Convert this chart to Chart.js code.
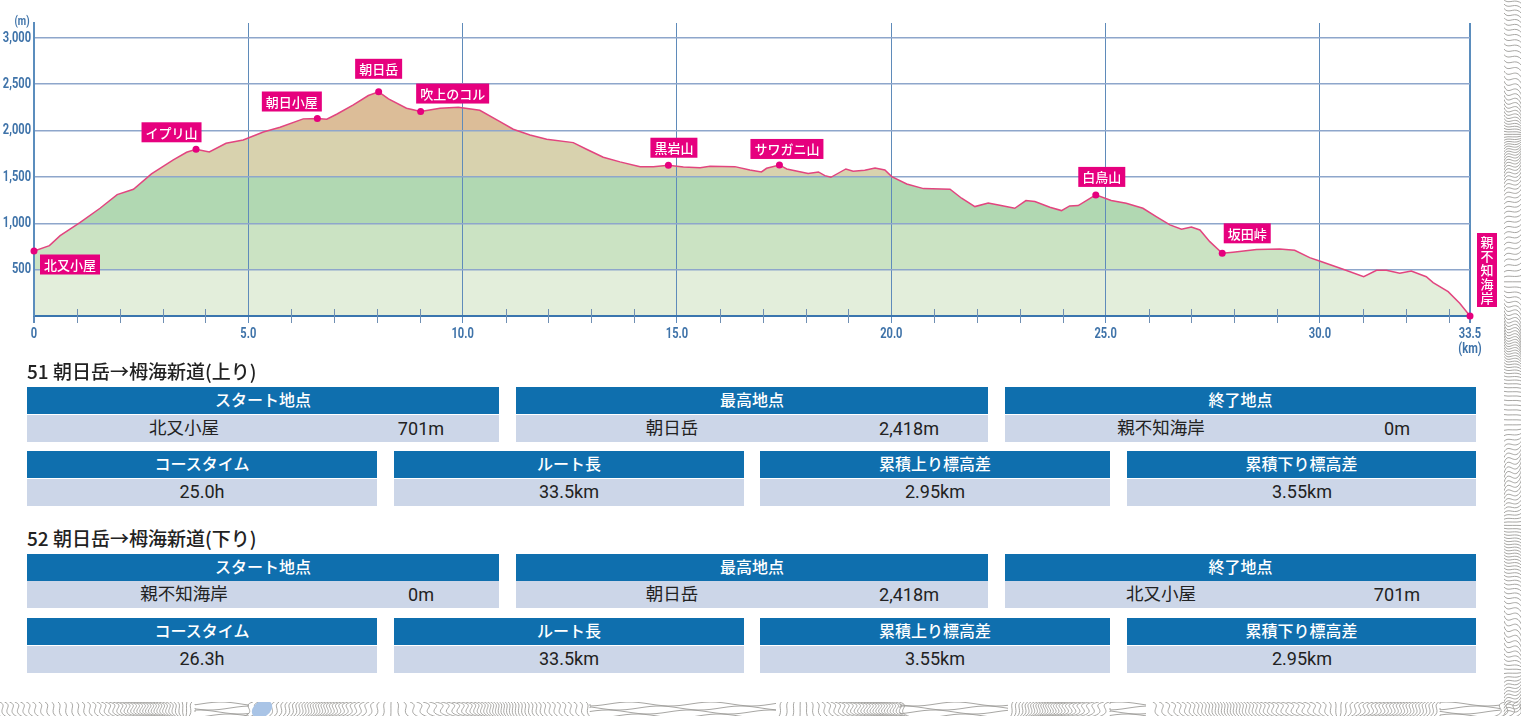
<!DOCTYPE html>
<html lang="ja">
<head>
<meta charset="utf-8">
<title>朝日岳→栂海新道</title>
<script src="https://cdn.jsdelivr.net/npm/chart.js@4"></script>
<style>
html, body { margin: 0; padding: 0; width: 1521px; height: 716px; overflow: hidden; background: #fff; }
body { position: relative; font-family: "Noto Sans CJK JP", sans-serif; color: #222; }
#map { position: absolute; left: 0; top: 0; }
#panel { position: absolute; left: 0; top: 0; width: 1504px; height: 702px; background: #fff; }
#profile { position: absolute; left: 0; top: 0; }
.title { position: absolute; left: 27px; font-size: 19px; font-weight: 500; line-height: 20px; white-space: nowrap; }
.head, .cell { position: absolute; box-sizing: border-box; }
.head { background: #0f6fae; color: #fff; font-size: 16px; font-weight: 500; text-align: center; height: 27px; line-height: 25px; }
.cell { background: #ccd6e8; height: 27px; }
.cell span { position: absolute; top: 0; white-space: nowrap; line-height: 26px; }
.name { font-size: 17.5px; transform: translateX(-50%); top: -1px !important; }
.val { font-family: "Roboto", sans-serif; font-size: 19px; transform: translateX(-50%) scaleX(0.95); }
</style>
</head>
<body>
<canvas id="map" width="1521" height="716"></canvas>
<div id="panel"></div>
<canvas id="profile" width="1504" height="360"></canvas>
<div id="tables"></div>
<script>
// Elevation profile
const distanceKm = [0, 0.36, 0.61, 1.07, 1.54, 1.94, 2.32, 2.74, 3.25, 3.56, 3.78, 4.09, 4.48, 4.88, 5.35, 5.74, 6.28, 6.61, 6.83, 7.06, 7.45, 7.8, 8.04, 8.27, 8.69, 9.02, 9.47, 9.9, 10.4, 10.87, 11.18, 11.57, 11.96, 12.58, 12.89, 13.28, 13.67, 14.14, 14.45, 14.8, 15.15, 15.54, 15.77, 16.35, 16.7, 16.97, 17.09, 17.39, 17.56, 18.06, 18.3, 18.45, 18.59, 18.94, 19.11, 19.38, 19.62, 19.85, 20.01, 20.36, 20.75, 21.37, 21.64, 21.95, 22.26, 22.53, 22.88, 23.14, 23.35, 23.7, 23.97, 24.16, 24.36, 24.77, 25.13, 25.48, 25.87, 26.18, 26.5, 26.77, 27, 27.2, 27.43, 27.72, 27.97, 28.52, 29.06, 29.41, 29.76, 29.99, 30.54, 31.02, 31.32, 31.55, 31.86, 32.13, 32.48, 32.64, 32.99, 33.26, 33.5];
const elevationM = [701, 759, 867, 1007, 1162, 1309, 1367, 1532, 1683, 1766, 1798, 1770, 1863, 1899, 1985, 2036, 2126, 2130, 2122, 2176, 2277, 2378, 2418, 2342, 2241, 2205, 2241, 2252, 2219, 2097, 2014, 1953, 1906, 1870, 1798, 1712, 1662, 1611, 1611, 1626, 1608, 1600, 1615, 1611, 1575, 1554, 1593, 1629, 1586, 1536, 1554, 1514, 1496, 1586, 1561, 1572, 1597, 1575, 1503, 1424, 1374, 1367, 1270, 1180, 1219, 1194, 1162, 1245, 1234, 1173, 1137, 1187, 1191, 1306, 1245, 1216, 1162, 1072, 982, 935, 960, 928, 802, 676, 687, 716, 723, 709, 629, 594, 504, 424, 493, 493, 460, 486, 424, 360, 263, 137, 0];

const placeNames = ['北又小屋', 'イプリ山', '朝日小屋', '朝日岳', '吹上のコル', '黒岩山', 'サワガニ山', '白鳥山', '坂田峠', '親不知海岸'];
const placeKm = [0, 3.78, 6.61, 8.04, 9.02, 14.8, 17.39, 24.77, 27.72, 33.5];
const placeM = [701, 1798, 2130, 2418, 2205, 1626, 1629, 1306, 676, 0];

const yTicks = [500, 1000, 1500, 2000, 2500, 3000];
const yTickLabels = ['500', '1,000', '1,500', '2,000', '2,500', '3,000'];
const xTicks = [0, 5, 10, 15, 20, 25, 30, 33.5];
const xTickLabels = ['0', '5.0', '10.0', '15.0', '20.0', '25.0', '30.0', '33.5'];
const xMinorTicks = [1, 2, 3, 4, 6, 7, 8, 9, 11, 12, 13, 14, 16, 17, 18, 19, 21, 22, 23, 24, 26, 27, 28, 29, 31, 32, 33];

const bandLimits = [0, 500, 1000, 1500, 2000, 3160];
const bandColors = ['#e3eedb', '#cbe3c3', '#b1d8b2', '#d8d2ae', '#dcbd98'];

// Route tables
const tableRows = [
  {
    title: '51 朝日岳→栂海新道(上り)',
    points: [['スタート地点', '北又小屋', '701m'], ['最高地点', '朝日岳', '2,418m'], ['終了地点', '親不知海岸', '0m']],
    stats: ['25.0h', '33.5km', '2.95km', '3.55km']
  },
  {
    title: '52 朝日岳→栂海新道(下り)',
    points: [['スタート地点', '親不知海岸', '0m'], ['最高地点', '朝日岳', '2,418m'], ['終了地点', '北又小屋', '701m']],
    stats: ['26.3h', '33.5km', '3.55km', '2.95km']
  }
];
const statHeads = ['コースタイム', 'ルート長', '累積上り標高差', '累積下り標高差'];

// label box offset from its point, in px
const labelOffsets = [[36, 13.5], [-24.5, -17], [-25.5, -17], [0, -23], [32, -18], [5.5, -17.5], [7.5, -16], [6, -18], [25, -20], [17, -46]];

const AXIS_COLOR = '#3f73a9';

function bandGradient(context) {
  const { chart } = context;
  const y = chart.scales.y;
  if (!chart.chartArea || !y) return bandColors[0];
  const span = bandLimits[bandLimits.length - 1] - bandLimits[0];
  const gradient = chart.ctx.createLinearGradient(0, y.getPixelForValue(bandLimits[0]), 0, y.getPixelForValue(span));
  bandColors.forEach((color, i) => {
    gradient.addColorStop(bandLimits[i] / span, color);
    gradient.addColorStop(bandLimits[i + 1] / span, color);
  });
  return gradient;
}

// the axis type in the print is condensed and no such font is installed, so squeeze Roboto
function narrowText(ctx, text, x, y, align) {
  ctx.save();
  ctx.translate(x, y);
  ctx.scale(0.74, 1);
  ctx.textAlign = align;
  ctx.textBaseline = 'middle';
  ctx.fillText(text, 0, 0);
  ctx.restore();
}

// short marks on the distance axis, axis labels, units and the pink place labels
const profileDecor = {
  id: 'profileDecor',
  afterDatasetsDraw(chart) {
    const { ctx, scales: { x, y } } = chart;
    const base = y.getPixelForValue(0);
    ctx.save();

    ctx.strokeStyle = '#6f8fb3';
    ctx.lineWidth = 1;
    xMinorTicks.forEach(km => {
      const px = Math.round(x.getPixelForValue(km)) + 0.5;
      ctx.beginPath();
      ctx.moveTo(px, base - 7);
      ctx.lineTo(px, base + 7);
      ctx.stroke();
    });

    ctx.fillStyle = AXIS_COLOR;
    ctx.font = 'bold 15px Roboto, sans-serif';
    yTicks.forEach((v, i) => narrowText(ctx, yTickLabels[i], 31, y.getPixelForValue(v), 'right'));
    xTicks.forEach((v, i) => narrowText(ctx, xTickLabels[i], x.getPixelForValue(v), 334.5, 'center'));
    narrowText(ctx, '(km)', x.getPixelForValue(33.5), 349.5, 'center');
    ctx.font = 'bold 13px Roboto, sans-serif';
    narrowText(ctx, '(m)', 22, 22, 'center');

    ctx.textAlign = 'center';
    ctx.textBaseline = 'middle';
    placeNames.forEach((name, i) => {
      const cx = x.getPixelForValue(placeKm[i]) + labelOffsets[i][0];
      const cy = y.getPixelForValue(placeM[i]) + labelOffsets[i][1];
      const vertical = i === placeNames.length - 1;
      ctx.font = '500 13px "Noto Sans CJK JP", sans-serif';
      const w = vertical ? 20 : ctx.measureText(name).width + 8;
      const h = vertical ? 74 : 20;
      ctx.fillStyle = '#e6007e';
      ctx.fillRect(cx - w / 2, cy - h / 2, w, h);
      ctx.fillStyle = '#fff';
      if (vertical) {
        [...name].forEach((ch, n) => ctx.fillText(ch, cx, cy - 28 + n * 14));
      } else {
        ctx.fillText(name, cx, cy + 0.5);
      }
    });
    ctx.restore();
  }
};

new Chart(document.getElementById('profile'), {
  type: 'line',
  data: {
    datasets: [{
      data: distanceKm.map((km, i) => ({ x: km, y: elevationM[i] })),
      borderColor: '#e2457f',
      borderWidth: 1.5,
      backgroundColor: bandGradient,
      fill: 'origin',
      pointRadius: 0,
      tension: 0,
      order: 2
    }, {
      data: placeKm.map((km, i) => ({ x: km, y: placeM[i] })),
      showLine: false,
      pointRadius: 3.5,
      pointBackgroundColor: '#e6007e',
      pointBorderWidth: 0,
      clip: false,
      order: 1
    }]
  },
  plugins: [profileDecor],
  options: {
    responsive: false,
    animation: false,
    events: [],
    layout: { padding: { top: 23, right: 34, left: 0, bottom: 0 } },
    plugins: {
      legend: { display: false },
      tooltip: { enabled: false },
      filler: { drawTime: 'beforeDraw' }
    },
    scales: {
      x: {
        type: 'linear',
        min: 0,
        max: 33.5,
        afterFit: scale => { scale.height = 44; },
        afterBuildTicks: scale => { scale.ticks = xTicks.map(value => ({ value })); },
        border: { color: '#3a75ae', width: 2 },
        grid: {
          color: ctx => ctx.tick && ctx.tick.value === 33.5 ? '#5b8dbd' : '#5f8bba',
          lineWidth: ctx => ctx.tick && (ctx.tick.value === 33.5 || ctx.tick.value === 0) ? 2 : 1,
          tickColor: '#5f8bba',
          tickLength: 7
        },
        ticks: { display: false }
      },
      y: {
        min: 0,
        max: 3160,
        afterFit: scale => { scale.width = 34; },
        afterBuildTicks: scale => { scale.ticks = yTicks.map(value => ({ value })); },
        border: { color: '#5b8dbd', width: 2 },
        grid: { color: '#8ea6cb', lineWidth: 1.5, drawTicks: false },
        ticks: { display: false }
      }
    }
  }
});

// Tables below the chart
const tableBox = document.getElementById('tables');
const pointCols = [[27, 472, 184, 421], [516, 472, 672, 909], [1005, 471, 1161, 1397]];
const statCols = [[27, 350], [394, 350], [760, 350], [1127, 349]];
const blockTops = [0, 166.5];

function addBox(cls, left, top, width, html) {
  const el = document.createElement('div');
  el.className = cls;
  el.style.cssText = `left:${left}px;top:${top}px;width:${width}px`;
  el.innerHTML = html;
  tableBox.appendChild(el);
}

tableRows.forEach((row, b) => {
  const off = blockTops[b];
  const t = document.createElement('div');
  t.className = 'title';
  t.style.top = (361 + off) + 'px';
  t.textContent = row.title;
  tableBox.appendChild(t);
  row.points.forEach((p, i) => {
    const [left, width, nameX, valX] = pointCols[i];
    addBox('head', left, 387 + off, width, p[0]);
    addBox('cell', left, 414.5 + off, width,
      `<span class="name" style="left:${nameX - left}px">${p[1]}</span><span class="val" style="left:${valX - left}px;top:1px">${p[2]}</span>`);
  });
  row.stats.forEach((s, i) => {
    const [left, width] = statCols[i];
    addBox('head', left, 451 + off, width, statHeads[i]);
    addBox('cell', left, 479 + off, width, `<span class="val" style="left:${width / 2}px">${s}</span>`);
  });
});

// Contour map showing around the white panel (texture only, not data)
const flatStretches = [[195, 250], [590, 780], [900, 1010], [1110, 1150], [1440, 1504]];
function drawMap() {
  const ctx = document.getElementById('map').getContext('2d');
  ctx.strokeStyle = '#9d9c98';
  ctx.lineWidth = 0.9;
  for (let x = -20; x < 1540; x += 4.7 + 1.8 * Math.sin(x / 29)) {
    if (flatStretches.some(s => x > s[0] && x < s[1])) continue;
    const lean = 16 * Math.sin(x / 61) + 9 * Math.cos(x / 23);
    ctx.beginPath();
    ctx.moveTo(x, 702);
    ctx.bezierCurveTo(x + lean, 706, x - lean / 2, 711, x + lean * 0.8, 717);
    ctx.stroke();
  }
  flatStretches.forEach(s => {
    for (let y = 704; y < 717; y += 4) {
      ctx.beginPath();
      ctx.moveTo(s[0], y);
      for (let x = s[0]; x <= s[1]; x += 6) ctx.lineTo(x, y + 2 * Math.sin(x / 13 + y));
      ctx.stroke();
    }
  });
  for (let y = -8; y < 716; y += 4.2 + 1.3 * Math.sin(y / 31)) {
    const lean = 12 * Math.sin(y / 43) + 5 * Math.cos(y / 17);
    ctx.beginPath();
    ctx.moveTo(1504, y);
    ctx.bezierCurveTo(1509, y + lean, 1515, y - lean / 2, 1522, y + lean * 0.8);
    ctx.stroke();
  }
  ctx.fillStyle = '#a9c4e6';
  ctx.beginPath();
  ctx.ellipse(262, 709, 11, 8, -0.6, 0, Math.PI * 2);
  ctx.fill();
}
drawMap();
</script>
</body>
</html>
